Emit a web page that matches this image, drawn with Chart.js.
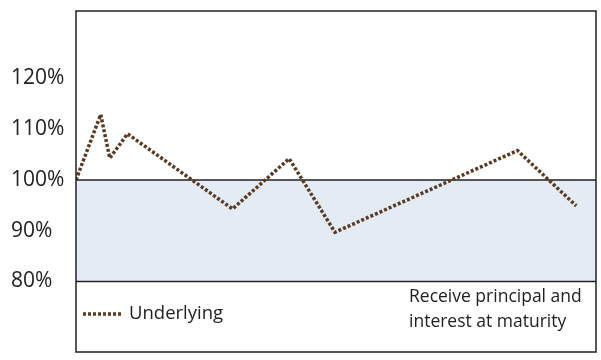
<!DOCTYPE html>
<html><head><meta charset="utf-8">
<script src="https://cdn.jsdelivr.net/npm/chart.js@4/dist/chart.umd.min.js"></script>
<style>html,body{margin:0;padding:0;background:#fff}#wrap{width:601px;height:360px}</style>
</head><body><div id="wrap"><canvas id="c" width="601" height="360"></canvas></div>
<script>
const xTime = [0, 4.75, 6.5, 9.9, 30.1, 41, 49.8, 84.9, 96.2];
const underlying = [100, 112.9, 104.3, 109.1, 94.3, 104.2, 89.7, 105.8, 94.9];
const yTicks = [80, 90, 100, 110, 120];
const band = [80, 100];
const seriesName = 'Underlying';
const noteLines = ['Receive principal and', 'interest at maturity'];

const FONT = '"Open Sans", sans-serif';
const LINE_COLOR = '#5b3a22';
const DASH = [3, 2];

const bandPlugin = {
  id: 'band',
  beforeDatasetsDraw(chart) {
    const {ctx, chartArea: a, scales: {y}} = chart;
    const yTop = y.getPixelForValue(band[1]);
    const yBot = y.getPixelForValue(band[0]);
    ctx.save();
    ctx.fillStyle = '#e3ebf5';
    ctx.fillRect(a.left, yTop, a.right - a.left, yBot - yTop);
    ctx.strokeStyle = '#222';
    ctx.lineWidth = 1.5;
    ctx.beginPath();
    ctx.moveTo(a.left, yTop); ctx.lineTo(a.right, yTop);
    ctx.moveTo(a.left, yBot); ctx.lineTo(a.right, yBot);
    ctx.stroke();
    ctx.restore();
  },
  afterDraw(chart) {
    const {ctx, chartArea: a} = chart;
    ctx.save();
    ctx.strokeStyle = '#222';
    ctx.lineWidth = 1.5;
    ctx.strokeRect(a.left, a.top, a.right - a.left, a.bottom - a.top);
    // legend
    const ly = 314;
    ctx.strokeStyle = LINE_COLOR;
    ctx.lineWidth = 3.5;
    ctx.setLineDash(DASH);
    ctx.beginPath();
    ctx.moveTo(a.left + 7, ly); ctx.lineTo(a.left + 47, ly);
    ctx.stroke();
    ctx.setLineDash([]);
    ctx.fillStyle = '#222';
    ctx.font = '18.5px ' + FONT;
    ctx.textBaseline = 'middle';
    ctx.textAlign = 'left';
    ctx.fillText(seriesName, a.left + 53, ly);
    ctx.font = '17.5px ' + FONT;
    ctx.fillText(noteLines[0], 409, 297);
    ctx.fillText(noteLines[1], 409, 322);
    ctx.restore();
  }
};

new Chart(document.getElementById('c'), {
  type: 'line',
  data: {
    datasets: [{
      label: seriesName,
      data: xTime.map((x, i) => ({x, y: underlying[i]})),
      borderColor: LINE_COLOR,
      borderWidth: 3.5,
      borderDash: DASH,
      pointRadius: 0,
      tension: 0,
      fill: false
    }]
  },
  options: {
    responsive: false,
    animation: false,
    layout: {padding: {top: 11, right: 5, bottom: 8, left: 11}},
    plugins: {legend: {display: false}, tooltip: {enabled: false}},
    scales: {
      x: {type: 'linear', min: 0, max: 100, display: false},
      y: {
        min: 66.1, max: 133.3,
        grid: {display: false},
        border: {display: false},
        afterBuildTicks(s) { s.ticks = yTicks.map(v => ({value: v})); },
        afterFit(s) { s.width = 65; s.paddingTop = 0; s.paddingBottom = 0; },
        ticks: {
          padding: 0,
          crossAlign: 'far',
          color: '#222',
          font: {family: FONT, size: 21},
          callback: v => v + '%'
        }
      }
    }
  },
  plugins: [bandPlugin]
});
</script></body></html>
